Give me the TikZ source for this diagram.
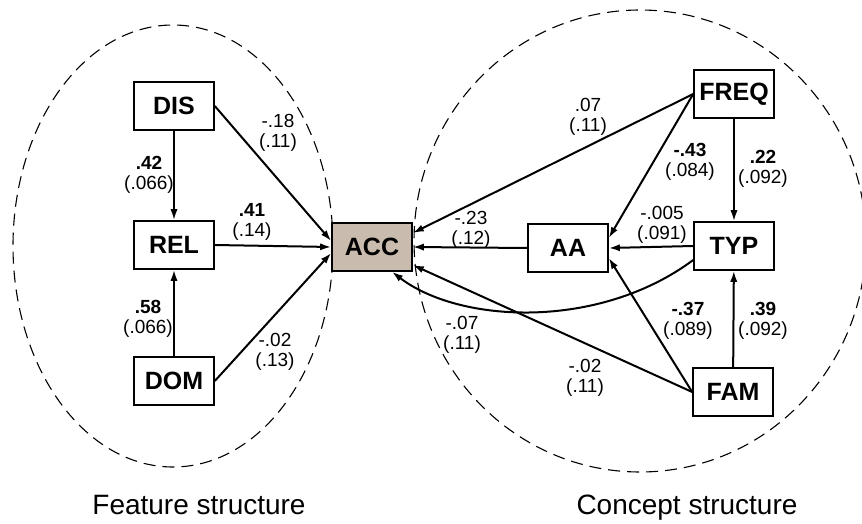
\documentclass[tikz,border=0pt]{standalone}
\usepackage{fontspec}
\setmainfont{Liberation Sans}
\usetikzlibrary{arrows.meta}
\definecolor{accfill}{RGB}{201,187,173}
\tikzset{
  varbox/.style={draw, line width=0.8pt, minimum width=40pt, minimum height=24pt,
    inner sep=0pt, font=\fontsize{12.5}{14}\selectfont\bfseries},
  coef/.style={align=center, inner sep=0pt, font=\fontsize{9.5}{10}\selectfont},
  effect/.style={-{Latex[length=5.5pt,width=3.6pt]}, line width=1pt},
  region/.style={dash pattern=on 6pt off 3.5pt, line width=0.55pt},
  caption/.style={font=\fontsize{14}{16}\selectfont}
}
\begin{document}
\begin{tikzpicture}[x=0.5pt,y=-0.5pt]
  \useasboundingbox (0,0) rectangle (862,524);

  % the two structures
  \draw[region] (173,246) ellipse [x radius=80pt, y radius=110.5pt];
  \draw[region] (640,241) ellipse [x radius=113pt, y radius=115.5pt];

  % variables
  \node[varbox] (DIS) at (174,106) {DIS};
  \node[varbox] (REL) at (174,245) {REL};
  \node[varbox] (DOM) at (174,381) {DOM};
  \node[varbox, fill=accfill] (ACC) at (372,247) {ACC};
  \node[varbox] (AA) at (568,248) {AA};
  \node[varbox] (FREQ) at (734,94) {FREQ};
  \node[varbox] (TYP) at (734,246) {TYP};
  \node[varbox] (FAM) at (733,392) {FAM};

  % paths
  \draw[effect] (DIS) -- (REL);
  \draw[effect] (DOM) -- (REL);
  \draw[effect] (DIS.east) -- ([yshift=3pt]ACC.west);
  \draw[effect] (REL.east) -- (ACC.west);
  \draw[effect] (DOM.east) -- ([yshift=-3pt]ACC.west);
  \draw[effect] (FREQ.west) -- ([yshift=7pt]ACC.east);
  \draw[effect] (FREQ.west) -- ([yshift=5pt]AA.east);
  \draw[effect] (FREQ) -- (TYP);
  \draw[effect] (TYP.west) -- (AA.east);
  \draw[effect] (AA.west) -- (ACC.east);
  \draw[effect] (FAM) -- (TYP);
  \draw[effect] (FAM.west) -- ([yshift=-5pt]AA.east);
  \draw[effect] (FAM.west) -- ([yshift=-9pt]ACC.east);
  \draw[effect] ([yshift=-7pt]TYP.west) .. controls +(-47pt,-35pt) and +(34pt,-26pt) .. ([xshift=10pt]ACC.south);

  % coefficients
  \node[coef] (cDISREL) at (149,175) {\textbf{.42}\\(.066)};
  \node[coef] (cDOMREL) at (148,319) {\textbf{.58}\\(.066)};
  \node[coef] (cDISACC) at (278,133) {-.18\\(.11)};
  \node[coef] (cRELACC) at (252,222) {\textbf{.41}\\(.14)};
  \node[coef] (cDOMACC) at (275,352) {-.02\\(.13)};
  \node[coef] (cFREQACC) at (588,117) {.07\\(.11)};
  \node[coef] (cFREQAA) at (690,162) {\textbf{-.43}\\(.084)};
  \node[coef] (cFREQTYP) at (763,169) {\textbf{.22}\\(.092)};
  \node[coef] (cAAACC) at (471,230) {-.23\\(.12)};
  \node[coef] (cTYPAA) at (662,225) {-.005\\(.091)};
  \node[coef] (cFAMAA) at (688,321) {\textbf{-.37}\\(.089)};
  \node[coef] (cFAMTYP) at (763,321) {\textbf{.39}\\(.092)};
  \node[coef] (cTYPACC) at (462,335) {-.07\\(.11)};
  \node[coef] (cFAMACC) at (585,378) {-.02\\(.11)};

  % captions
  \node[caption] (capFeature) at (199,505) {Feature structure};
  \node[caption] (capConcept) at (687,508) {Concept structure};
\end{tikzpicture}
\end{document}
